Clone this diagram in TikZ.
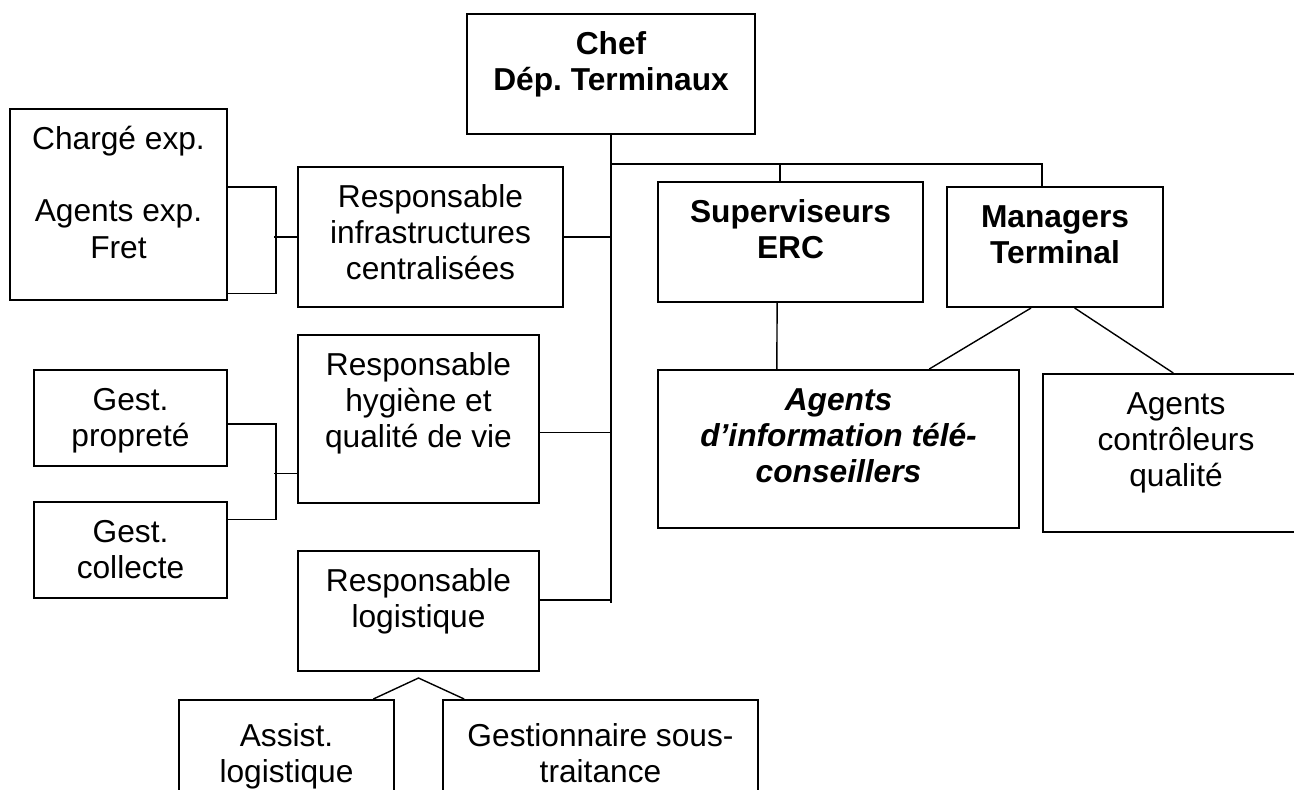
\documentclass[tikz,border=0pt]{standalone}
\usepackage{fontspec}
\setmainfont{Liberation Sans}
\usetikzlibrary{calc}
\frenchspacing

\newcommand{\cell}[4][20pt]{\parbox[c][#3][t]{#2}{\centering\rule{0pt}{#1}#4}}
\tikzset{
  unit/.style={draw, line width=1pt, inner sep=0pt, anchor=north west, font=\fontsize{15.85pt}{18.2pt}\selectfont},
  link/.style={line width=0.7pt},
}

\begin{document}
\begin{tikzpicture}[x=0.5pt,y=-0.5pt]
\useasboundingbox (0,0) rectangle (1294,789);
\clip (0,0) rectangle (1294,789); % --- boxes on the right and bottom are cut

\node[unit] (chef) at (466,13) {\cell{144pt}{60pt}{\bfseries Chef\\Dép. Terminaux}}; % --- head

% --- left column
\node[unit] (infra) at (297,166) {\cell{132.5pt}{70pt}{Responsable\\infrastructures\\centralisées}};
\node[unit] (hyg) at (297,334) {\cell{120.5pt}{84pt}{Responsable\\hygiène et\\qualité de vie}};
\node[unit] (logi) at (297,550) {\cell{120.5pt}{60pt}{Responsable\\logistique}};
\node[unit] (charge) at (9,108) {\cell{108.5pt}{95.5pt}{Chargé exp.\\[18.2pt]Agents exp.\\Fret}};
\node[unit] (gprop) at (33,369) {\cell{96.5pt}{48pt}{Gest.\\propreté}};
\node[unit] (gcoll) at (33,501) {\cell{96.5pt}{48pt}{Gest.\\collecte}};
\node[unit] (assist) at (178,699) {\cell[23pt]{107.5pt}{65pt}{Assist.\\logistique}};
\node[unit] (gsous) at (442,699) {\cell[23pt]{157.5pt}{65pt}{Gestionnaire sous-\\traitance}};

% --- right side
\node[unit] (sup) at (657,181) {\cell{132.5pt}{60pt}{\bfseries Superviseurs\\ERC}};
\node[unit] (mgr) at (946,186) {\cell{108pt}{60pt}{\bfseries Managers\\Terminal}};
\node[unit] (agtel) at (657,369) {\cell{180.5pt}{79pt}{\bfseries\itshape Agents\\d’information télé-\\conseillers}};
\node[unit] (agqual) at (1042,373) {\cell{133pt}{79pt}{Agents\\contrôleurs\\qualité}};

% --- trunk and branches
\coordinate (trunkend) at ($(chef.south)+(0,468)$);
\coordinate (branch) at ($(chef.south)+(0,29)$);
\coordinate (suptop) at ($(sup.north west)!.46!(sup.north east)$);
\coordinate (hygout) at ($(hyg.north east)!.58!(hyg.south east)$);
\coordinate (logiout) at ($(logi.north east)!.41!(logi.south east)$);
\draw[link] (chef.south) -- (trunkend);
\draw[link] (branch) -| ($(mgr.north west)!.44!(mgr.north east)$);
\draw[link] (suptop) -- (suptop |- branch);
\draw[link] (infra.east) -- (infra.east -| trunkend);
\draw[link] (hygout) -- (hygout -| trunkend);
\draw[link] (logiout) -- (logiout -| trunkend);

% --- under the supervisors and managers
\draw[link] ($(sup.south west)!.45!(sup.south east)$) -- ($(agtel.north west)!.33!(agtel.north east)$);
\draw[link] ($(mgr.south west)!.39!(mgr.south east)$) -- ($(agtel.north west)!.75!(agtel.north east)$);
\draw[link] ($(mgr.south west)!.59!(mgr.south east)$) -- ($(agqual.north west)!.49!(agqual.north east)$);

% --- brackets on the left
\draw[link] ($(charge.north east)!.41!(charge.south east)$) -- ++(48,0) |- ($(charge.north east)!.96!(charge.south east)$);
\draw[link] (infra.west) -- ++(-23,0);
\draw[link] ($(gprop.north east)!.56!(gprop.south east)$) -- ++(48,0) |- ($(gcoll.north east)!.19!(gcoll.south east)$);
\draw[link] ($(hyg.north west)!.82!(hyg.south west)$) -- ++(-23,0);

% --- logistics roof
\coordinate (apex) at ([yshift=-3pt]logi.south);
\draw[link] ($(assist.north west)!.9!(assist.north east)$) -- (apex) -- ($(gsous.north west)!.07!(gsous.north east)$);
\end{tikzpicture}
\end{document}
